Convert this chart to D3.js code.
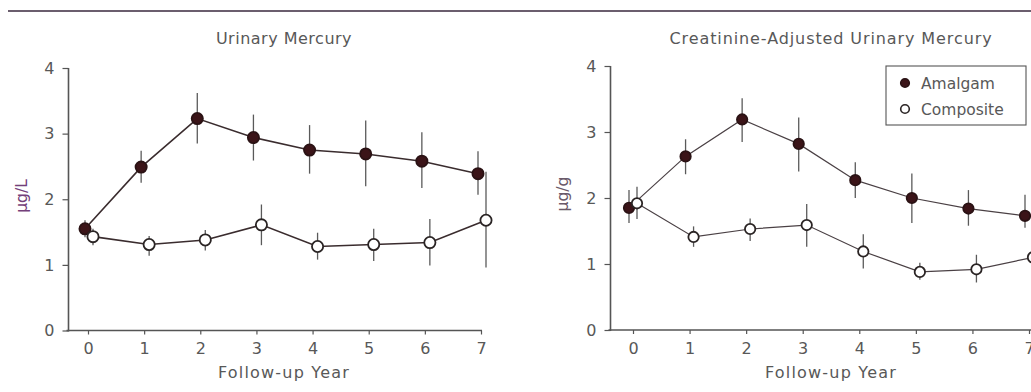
<!DOCTYPE html>
<html><head><meta charset="utf-8">
<script src="https://cdn.jsdelivr.net/npm/d3@7"></script>
<style>
html,body{margin:0;padding:0;background:#fff;}
text{font-family:"DejaVu Sans",sans-serif;fill:#585858;}
</style></head>
<body>
<svg id="chart" width="1031" height="392"></svg>
<script>
const years = [0,1,2,3,4,5,6,7];
const yTicks = [0,1,2,3,4];
const seriesNames = ["Amalgam","Composite"];
const titles = ["Urinary Mercury","Creatinine-Adjusted Urinary Mercury"];
const yLabels = ["µg/L","µg/g"];
const xLabel = "Follow-up Year";

// Panel 1: Urinary mercury (µg/L)
const urAmalgam    = [1.55, 2.49, 3.23, 2.94, 2.75, 2.69, 2.58, 2.39];
const urAmalgamLo  = [1.42, 2.25, 2.85, 2.59, 2.39, 2.20, 2.17, 2.07];
const urAmalgamHi  = [1.68, 2.74, 3.62, 3.29, 3.13, 3.20, 3.02, 2.73];
const urComposite   = [1.43, 1.31, 1.38, 1.61, 1.28, 1.31, 1.34, 1.68];
const urCompositeLo = [1.30, 1.14, 1.22, 1.30, 1.08, 1.06, 0.99, 0.96];
const urCompositeHi = [1.55, 1.44, 1.53, 1.92, 1.49, 1.55, 1.70, 2.42];

// Panel 2: Creatinine-adjusted (µg/g)
const crAmalgam    = [1.85, 2.63, 3.19, 2.82, 2.27, 2.00, 1.84, 1.73];
const crAmalgamLo  = [1.62, 2.36, 2.85, 2.40, 2.00, 1.62, 1.58, 1.55];
const crAmalgamHi  = [2.12, 2.89, 3.51, 3.22, 2.54, 2.37, 2.12, 2.05];
const crComposite   = [1.92, 1.41, 1.53, 1.59, 1.19, 0.88, 0.92, 1.10];
const crCompositeLo = [1.68, 1.26, 1.35, 1.26, 0.93, 0.76, 0.72, 0.92];
const crCompositeHi = [2.17, 1.57, 1.69, 1.91, 1.45, 1.02, 1.14, 1.28];

const svg = d3.select("#chart");

// top rule
svg.append("line").attr("x1",8).attr("x2",1031).attr("y1",11).attr("y2",11)
  .attr("stroke","#6b5e6e").attr("stroke-width",2);

const panels = [
  {title:titles[0], ylab:yLabels[0], x0:88, x1:481, axX:68.5, axEnd:482, y0:330.5, y1:68,
   titleX:284, titleLS:0.5, ylabX:22, ylabY:196, offA:-3, offC:5, r:5.6, lineW:1.6, lineC:"#3a2c2e",
   a:urAmalgam, aLo:urAmalgamLo, aHi:urAmalgamHi, c:urComposite, cLo:urCompositeLo, cHi:urCompositeHi},
  {title:titles[1], ylab:yLabels[1], x0:633, x1:1029, axX:610.5, axEnd:1031, y0:330, y1:66,
   titleX:831, titleLS:0.9, ylabX:563, ylabY:194, offA:-4, offC:4, r:5.2, lineW:1.2, lineC:"#4a4044",
   a:crAmalgam, aLo:crAmalgamLo, aHi:crAmalgamHi, c:crComposite, cLo:crCompositeLo, cHi:crCompositeHi, legend:true}
];

panels.forEach(p => {
  const x = d3.scaleLinear().domain([0,7]).range([p.x0,p.x1]);
  const y = d3.scaleLinear().domain([0,4]).range([p.y0,p.y1]);
  const g = svg.append("g");

  // title
  g.append("text").attr("x",p.titleX).attr("y",44).attr("text-anchor","middle")
    .attr("font-size",16).attr("letter-spacing",p.titleLS).text(p.title);

  // y axis
  const ya = g.append("g").attr("transform",`translate(${p.axX},0)`)
    .call(d3.axisLeft(y).tickValues(yTicks).tickFormat(d3.format("d")).tickSize(6).tickPadding(8).tickSizeOuter(0));
  ya.select(".domain").remove();
  ya.selectAll("line").attr("stroke","#555").attr("stroke-width",1.2);
  ya.selectAll("text").attr("font-size",16).attr("fill","#585858").attr("font-family","DejaVu Sans");
  g.append("line").attr("x1",p.axX).attr("x2",p.axX).attr("y1",y(4)).attr("y2",y(0)+1)
    .attr("stroke","#555").attr("stroke-width",1.6);

  // x axis
  const xa = g.append("g").attr("transform",`translate(0,${p.y0})`)
    .call(d3.axisBottom(x).tickValues(years).tickFormat(d3.format("d")).tickSize(4).tickPadding(8.5).tickSizeOuter(0));
  xa.select(".domain").remove();
  xa.selectAll("line").attr("stroke","#555").attr("stroke-width",1.2);
  xa.selectAll("text").attr("font-size",16).attr("fill","#585858").attr("font-family","DejaVu Sans");
  g.append("line").attr("x1",p.axX-2).attr("x2",p.axEnd).attr("y1",p.y0).attr("y2",p.y0)
    .attr("stroke","#555").attr("stroke-width",1.6);

  // x label
  g.append("text").attr("x",p.titleX).attr("y",377.5).attr("text-anchor","middle")
    .attr("font-size",16).attr("letter-spacing",1.2).text(xLabel);

  // y label
  g.append("text").attr("transform",`translate(${p.ylabX},${p.ylabY}) rotate(-90)`)
    .attr("text-anchor","middle").attr("dy","0.35em").attr("font-size",15.5)
    .style("fill", p.legend ? "#6a5a6a" : "#74407a").text(p.ylab);

  const series = [
    {v:p.a, lo:p.aLo, hi:p.aHi, off:p.offA, fill:"#3b1418", stroke:"#2a1214"},
    {v:p.c, lo:p.cLo, hi:p.cHi, off:p.offC, fill:"#ffffff", stroke:"#2a2424"}
  ];

  // error bars
  series.forEach(s => {
    g.append("g").selectAll("line").data(years).join("line")
      .attr("x1",d=>x(d)+s.off).attr("x2",d=>x(d)+s.off)
      .attr("y1",(d,i)=>y(s.hi[i])).attr("y2",(d,i)=>y(s.lo[i]))
      .attr("stroke","#5a5a5a").attr("stroke-width",1.3);
  });
  // lines
  series.forEach(s => {
    const line = d3.line().x((d,i)=>x(years[i])+s.off).y(d=>y(d));
    g.append("path").datum(s.v).attr("d",line).attr("fill","none")
      .attr("stroke",p.lineC).attr("stroke-width",p.lineW);
  });
  // points
  series.forEach(s => {
    g.append("g").selectAll("circle").data(years).join("circle")
      .attr("cx",d=>x(d)+s.off).attr("cy",(d,i)=>y(s.v[i])).attr("r",p.r)
      .attr("fill",s.fill).attr("stroke",s.stroke).attr("stroke-width",1.8);
  });

  if (p.legend) {
    const lg = g.append("g");
    lg.append("rect").attr("x",886).attr("y",66).attr("width",140).attr("height",59)
      .attr("fill","#fff").attr("stroke","#555").attr("stroke-width",1.1);
    seriesNames.forEach((n,i) => {
      const cy = 83 + i*26;
      lg.append("circle").attr("cx",905).attr("cy",cy).attr("r",4.3)
        .attr("fill", i===0 ? "#3b1418" : "#fff").attr("stroke", i===0 ? "#2a1214" : "#2a2424")
        .attr("stroke-width",1.6);
      lg.append("text").attr("x",921).attr("y",cy+5.5).attr("font-size",15.5).text(n);
    });
  }
});
</script>
</body></html>
